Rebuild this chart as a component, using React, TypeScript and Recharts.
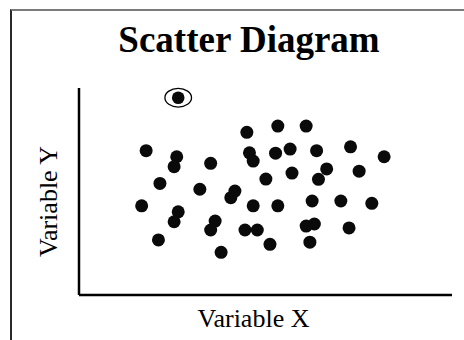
import { ScatterChart, Scatter, XAxis, YAxis, Label } from "recharts";

// values (x and y on a 0-100 scale)
const xs = [
  18.0, 26.2, 25.5, 21.7, 16.8, 26.6, 25.5, 21.3, 35.3, 32.4, 41.8, 40.7, 36.5,
  35.3, 38.1, 45.0, 45.7, 46.7, 50.1, 46.7, 44.5, 47.8, 51.2, 53.3, 52.7, 56.6,
  57.1, 53.3, 60.9, 63.7, 66.4, 64.2, 62.5, 63.1, 60.9, 61.9, 72.8, 75.1, 70.2,
  78.5, 72.4, 81.8,
];
const ys = [
  69.7, 66.8, 62.0, 53.9, 43.1, 40.2, 35.4, 26.6, 63.6, 51.1, 50.2, 47.0, 35.7,
  31.4, 20.6, 78.6, 68.7, 64.7, 56.0, 43.1, 31.4, 31.4, 24.5, 81.6, 68.5, 70.5,
  58.9, 43.1, 81.6, 69.7, 60.9, 55.9, 45.4, 34.3, 33.3, 25.5, 71.6, 59.8, 45.4,
  44.3, 32.4, 66.8,
];
const outlierX = [26.6];
const outlierY = [95.3];

const points = xs.map((x, i) => ({ x, y: ys[i] }));
const outliers = outlierX.map((x, i) => ({ x, y: outlierY[i] }));

const serif = "'Liberation Serif', 'Times New Roman', serif";

const Dot = (props: any) => (
  <circle cx={props.cx} cy={props.cy} r={6.5} fill="#0a0a0a" />
);

const CircledDot = (props: any) => (
  <g>
    <ellipse
      cx={props.cx}
      cy={props.cy}
      rx={13.3}
      ry={9.3}
      fill="none"
      stroke="#000"
      strokeWidth={1.3}
    />
    <circle cx={props.cx} cy={props.cy} r={6.3} fill="#0a0a0a" />
  </g>
);

export default function App() {
  return (
    <div
      style={{
        position: "absolute",
        left: 0,
        top: 0,
        width: 464,
        height: 340,
        background: "#fff",
        overflow: "hidden",
      }}
    >
      <div
        style={{
          position: "absolute",
          left: 10,
          top: 9,
          width: 480,
          height: 360,
          borderLeft: "2px solid #2a2a2a",
          borderTop: "2px solid #7a7a7a",
        }}
      />
      <div
        style={{
          position: "absolute",
          left: 0,
          top: 22,
          width: 498,
          textAlign: "center",
          fontFamily: serif,
          fontWeight: "bold",
          fontSize: 37,
          lineHeight: "36px",
          color: "#000",
        }}
      >
        Scatter Diagram
      </div>
      <div style={{ position: "absolute", left: 0, top: 0 }}>
        <ScatterChart
          width={464}
          height={340}
          margin={{ top: 88, right: 12, bottom: 44, left: 78 }}
        >
          <XAxis
            type="number"
            dataKey="x"
            domain={[0, 100]}
            height={1}
            tick={false}
            tickLine={false}
            axisLine={{ stroke: "#000", strokeWidth: 2.5 }}
          >
            <Label
              value="Variable X"
              position="bottom"
              offset={13}
              dx={-12}
              style={{ fontFamily: serif, fontSize: 26, fill: "#000" }}
            />
          </XAxis>
          <YAxis
            type="number"
            dataKey="y"
            domain={[0, 100]}
            width={1}
            tick={false}
            tickLine={false}
            axisLine={{ stroke: "#000", strokeWidth: 2.5 }}
          >
            <Label
              content={(p: any) => {
                const vb = p.viewBox;
                const cx = vb.x - 21;
                const cy = vb.y + vb.height / 2 + 10;
                return (
                  <text
                    x={cx}
                    y={cy}
                    transform={`rotate(-90, ${cx}, ${cy})`}
                    textAnchor="middle"
                    fontFamily={serif}
                    fontSize={26}
                    fill="#000"
                  >
                    Variable Y
                  </text>
                );
              }}
            />
          </YAxis>
          <Scatter data={points} shape={Dot} isAnimationActive={false} />
          <Scatter data={outliers} shape={CircledDot} isAnimationActive={false} />
        </ScatterChart>
      </div>
    </div>
  );
}
